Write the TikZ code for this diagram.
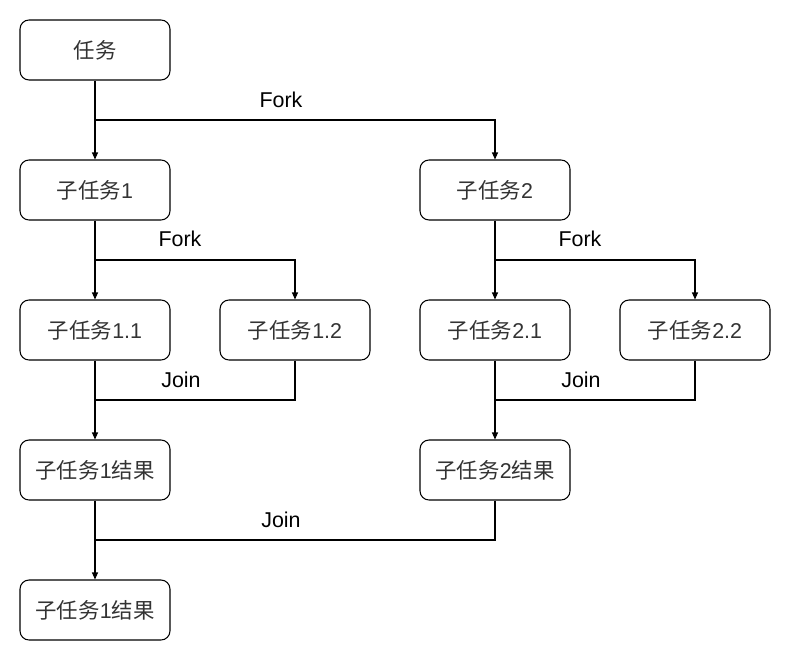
\documentclass[tikz,border=0pt]{standalone}
\usepackage{fontspec}
\setmainfont{Liberation Sans}
\newfontfamily\cjk{Noto Sans CJK SC}
\usetikzlibrary{arrows.meta}
\definecolor{txtgray}{RGB}{51,51,51}

\begin{document}
\begin{tikzpicture}[x=0.02cm,y=-0.02cm,
    box/.style={draw,line width=0.6pt,rounded corners=0.18cm,minimum width=3cm,minimum height=1.2cm,
      text=txtgray,font=\fontsize{12.2}{14}\selectfont},
    arr/.style={line width=0.6pt,-{Triangle[length=0.14cm,width=0.12cm]}},
    ln/.style={line width=0.6pt},
    lbl/.style={font=\fontsize{12.2}{14}\selectfont,inner sep=0pt}]
  \useasboundingbox (0,0) rectangle (791,662);
  \node[box] (task) at (95,50) {{\cjk 任务}};
  \node[box] (sub1) at (95,190) {{\cjk 子任务}1};
  \node[box] (sub2) at (495,190) {{\cjk 子任务}2};
  \node[box] (sub11) at (95,330) {{\cjk 子任务}1.1};
  \node[box] (sub12) at (295,330) {{\cjk 子任务}1.2};
  \node[box] (sub21) at (495,330) {{\cjk 子任务}2.1};
  \node[box] (sub22) at (695,330) {{\cjk 子任务}2.2};
  \node[box] (res1) at (95,470) {{\cjk 子任务}1{\cjk 结果}};
  \node[box] (res2) at (495,470) {{\cjk 子任务}2{\cjk 结果}};
  \node[box] (final) at (95,610) {{\cjk 子任务}1{\cjk 结果}};
  \coordinate (fork0) at (95,120);
  \coordinate (fork1) at (95,260);
  \coordinate (fork2) at (495,260);
  \coordinate (join1) at (95,400);
  \coordinate (join2) at (495,400);
  \coordinate (join0) at (95,540);
  % fork
  \draw[arr] (task) -- (sub1);
  \draw[arr] (fork0) -| (sub2);
  \draw[arr] (sub1) -- (sub11);
  \draw[arr] (fork1) -| (sub12);
  \draw[arr] (sub2) -- (sub21);
  \draw[arr] (fork2) -| (sub22);
  % join
  \draw[arr] (sub11) -- (res1);
  \draw[ln] (sub12) |- (join1);
  \draw[arr] (sub21) -- (res2);
  \draw[ln] (sub22) |- (join2);
  \draw[arr] (res1) -- (final);
  \draw[ln] (res2) |- (join0);
  \node[lbl] (l0) at (281,100) {Fork};
  \node[lbl] (l1) at (180,239) {Fork};
  \node[lbl] (l2) at (580,239) {Fork};
  \node[lbl] (l3) at (181,380) {Join};
  \node[lbl] (l4) at (581,380) {Join};
  \node[lbl] (l5) at (281,520) {Join};
\end{tikzpicture}
\end{document}
